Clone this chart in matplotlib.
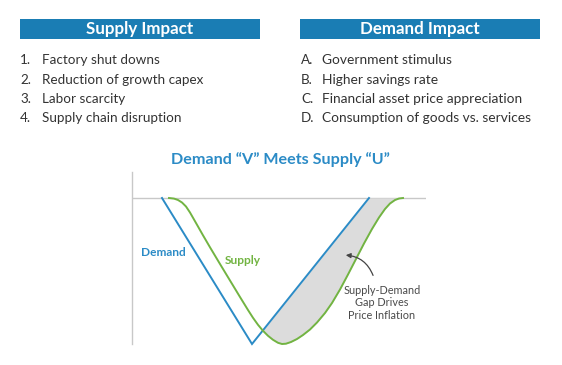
import numpy as np
import matplotlib
matplotlib.use("Agg")
import matplotlib.pyplot as plt
from matplotlib.patches import Rectangle

plt.rcParams['font.family'] = ['Lato', 'DejaVu Sans']

# list text
supply_title = "Supply Impact"
demand_title = "Demand Impact"
supply_marks = ["1.", "2.", "3.", "4."]
supply_items = ["Factory shut downs", "Reduction of growth capex",
                "Labor scarcity", "Supply chain disruption"]
demand_marks = ["A.", "B.", "C.", "D."]
demand_items = ["Government stimulus", "Higher savings rate",
                "Financial asset price appreciation",
                "Consumption of goods vs. services"]

# curves (x = time, y = level vs. pre-crisis baseline)
demand_x = [30, 120, 237]
demand_y = [0, -146, 0]
supply_x = [37, 42, 46, 50, 54, 58, 62, 66, 71, 78, 88, 98, 108, 116, 121, 126,
            131, 136, 141, 146, 150, 154, 159, 165, 171, 178, 185, 193, 200,
            208, 216, 224, 232, 240, 247, 253, 258, 263, 267, 271]
supply_y = [0, -0.6, -2, -4.5, -8.5, -14.5, -21.5, -28.5, -37.3, -49.3, -66,
            -82.5, -99, -112, -119.8, -126.8, -132.8, -137.8, -141.8, -144.8,
            -146, -145.7, -144, -141, -137, -131.5, -124.5, -115, -105, -91.5,
            -76.5, -61, -45.5, -31, -19.5, -11, -5.5, -2, -0.5, 0]

W, H = 562, 365
blue = "#2b8bc6"
hdr_blue = "#1a7db4"
green = "#72b442"
txt = "#333333"

fig = plt.figure(figsize=(W/100, H/100), dpi=100)

def fx(px):
    return px/W

def fy(py):
    return 1 - py/H

# header boxes
for x0, title in [(20, supply_title), (300, demand_title)]:
    fig.patches.append(Rectangle((fx(x0), fy(39)), 240/W, 20/H, transform=fig.transFigure,
                                 facecolor=hdr_blue, edgecolor="none"))
    fig.text(fx(x0+120), fy(34), title, color="white", fontsize=12.2, fontweight="bold",
             ha="center", va="baseline")

# bullet lists
rows = [64, 83.5, 103, 122.5]
for i in range(4):
    fig.text(fx(20), fy(rows[i]), supply_marks[i], color=txt, fontsize=9.7, va="baseline")
    fig.text(fx(42), fy(rows[i]), supply_items[i], color=txt, fontsize=9.7, va="baseline")
    fig.text(fx(301), fy(rows[i]), demand_marks[i], color=txt, fontsize=9.7, va="baseline")
    fig.text(fx(322), fy(rows[i]), demand_items[i], color=txt, fontsize=9.9, va="baseline")

fig.text(fx(280), fy(164), "Demand \u201cV\u201d Meets Supply \u201cU\u201d", color=blue,
         fontsize=11.6, fontweight="bold", ha="center", va="baseline")

# chart
ax = fig.add_axes([fx(132), fy(344), 294/W, 172/H])
ax.set_xlim(0, 294)
ax.set_ylim(-146, 26)
for s in ["top", "right", "bottom"]:
    ax.spines[s].set_visible(False)
ax.spines["left"].set_color("#c8c8c8")
ax.spines["left"].set_linewidth(1)
ax.set_xticks([])
ax.set_yticks([])
ax.axhline(0, color="#c8c8c8", lw=1, zorder=1)

xx = np.linspace(120, 271, 800)
d = np.interp(xx, demand_x, demand_y)
s = np.interp(xx, supply_x, supply_y)
ax.fill_between(xx, s, d, where=s < d, color="#dcdcdc", lw=0, zorder=2, interpolate=True)

ax.plot(demand_x, demand_y, color=blue, lw=1.4, zorder=3, clip_on=False,
        solid_joinstyle="miter")
ax.plot(supply_x, supply_y, color=green, lw=1.4, zorder=3, clip_on=False,
        solid_joinstyle="round")

ax.text(9, -54, "Demand", color=blue, fontsize=8.6, fontweight="bold", va="center")
ax.text(93, -63, "Supply", color=green, fontsize=8.6, fontweight="bold", va="center")

ax.annotate("", xy=(211, -57), xytext=(242, -80),
            arrowprops=dict(arrowstyle="-|>", color="#444444", lw=0.9,
                            connectionstyle="arc3,rad=0.35", mutation_scale=7))
ax.text(250, -105, "Supply-Demand\nGap Drives\nPrice Inflation", color="#4a4a4a",
        fontsize=7.8, ha="center", va="center", linespacing=1.2)

fig.savefig("out.png", dpi=100)
